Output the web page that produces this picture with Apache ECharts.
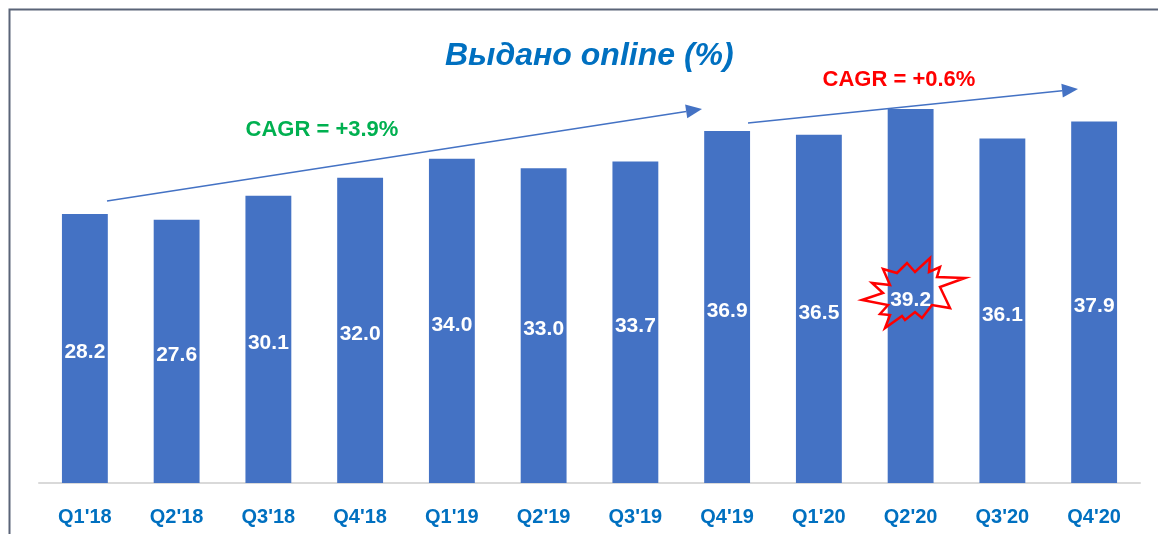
<!DOCTYPE html>
<html>
<head>
<meta charset="utf-8">
<script src="https://cdn.jsdelivr.net/npm/echarts@6/dist/echarts.min.js"></script>
<style>
  html, body { margin: 0; padding: 0; background: #fff; }
  #main { width: 1158px; height: 534px; }
</style>
</head>
<body>
<div id="main"></div>
<script>
const categories = ["Q1'18", "Q2'18", "Q3'18", "Q4'18", "Q1'19", "Q2'19", "Q3'19", "Q4'19", "Q1'20", "Q2'20", "Q3'20", "Q4'20"];
const onlineShare = [28.2, 27.6, 30.1, 32.0, 34.0, 33.0, 33.7, 36.9, 36.5, 39.2, 36.1, 37.9];

const blue = '#4472C4';
const textBlue = '#0070C0';

// arrow: a line plus a filled triangle at the tip
function arrow(x1, y1, x2, y2) {
  const dx = x2 - x1, dy = y2 - y1;
  const len = Math.sqrt(dx * dx + dy * dy);
  const ux = dx / len, uy = dy / len;
  const hl = 16, hw = 7;
  const bx = x2 - ux * hl, by = y2 - uy * hl;
  return [
    {
      type: 'line',
      shape: { x1: x1, y1: y1, x2: bx, y2: by },
      style: { stroke: blue, lineWidth: 1.5 }
    },
    {
      type: 'polygon',
      shape: { points: [[x2, y2], [bx - uy * hw, by + ux * hw], [bx + uy * hw, by - ux * hw]] },
      style: { fill: blue }
    }
  ];
}

const starPoints = [
  [883, 269], [897, 273], [907, 263], [915, 272], [930, 258], [929, 272],
  [940, 267], [937, 277], [965, 278], [940, 287], [950, 308], [932, 305],
  [922, 318], [915, 312], [905, 320], [902, 316], [885, 328], [890, 315],
  [880, 314], [888, 305], [862, 300], [883, 293], [872, 283], [890, 285]
];

const chart = echarts.init(document.getElementById('main'));

const option = {
  animation: false,
  title: {
    text: 'Выдано online (%)',
    left: 440,
    top: 35,
    textStyle: {
      fontFamily: 'Liberation Sans',
      fontSize: 32,
      fontWeight: 'bold',
      fontStyle: 'italic',
      color: textBlue
    }
  },
  grid: { left: 39, right: 18, top: 101.4, bottom: 51 },
  xAxis: {
    type: 'category',
    data: categories,
    axisLine: { lineStyle: { color: '#d9d9d9', width: 2 } },
    axisTick: { show: false },
    axisLabel: {
      margin: 24,
      fontFamily: 'Liberation Sans',
      fontSize: 20,
      fontWeight: 'bold',
      color: textBlue
    }
  },
  yAxis: {
    type: 'value',
    min: 0,
    max: 40,
    show: false,
    splitLine: { show: false }
  },
  series: [
    {
      type: 'bar',
      data: onlineShare,
      barWidth: '50%',
      itemStyle: { color: blue },
      label: {
        show: true,
        position: 'inside',
        offset: [0, 4],
        formatter: (p) => p.value.toFixed(1),
        fontFamily: 'Liberation Sans',
        fontSize: 21,
        fontWeight: 'bold',
        color: '#fff'
      }
    }
  ],
  graphic: [
    {
      type: 'polyline',
      shape: { points: [[9.5, 534], [9.5, 9.5], [1158, 9.5]] },
      style: { stroke: '#5a6478', lineWidth: 2, fill: null }
    },
    ...arrow(107, 201, 702, 109),
    ...arrow(748, 123, 1078, 89),
    {
      type: 'text',
      x: 322, y: 130,
      style: {
        text: 'CAGR = +3.9%',
        fill: '#00B050',
        font: 'bold 22px "Liberation Sans"',
        align: 'center',
        verticalAlign: 'middle'
      }
    },
    {
      type: 'text',
      x: 899, y: 80,
      style: {
        text: 'CAGR = +0.6%',
        fill: '#FF0000',
        font: 'bold 22px "Liberation Sans"',
        align: 'center',
        verticalAlign: 'middle'
      }
    },
    {
      type: 'polygon',
      z: 100,
      shape: { points: starPoints },
      style: { stroke: '#FF0000', lineWidth: 2.5, fill: null }
    }
  ]
};

chart.setOption(option);
</script>
</body>
</html>
